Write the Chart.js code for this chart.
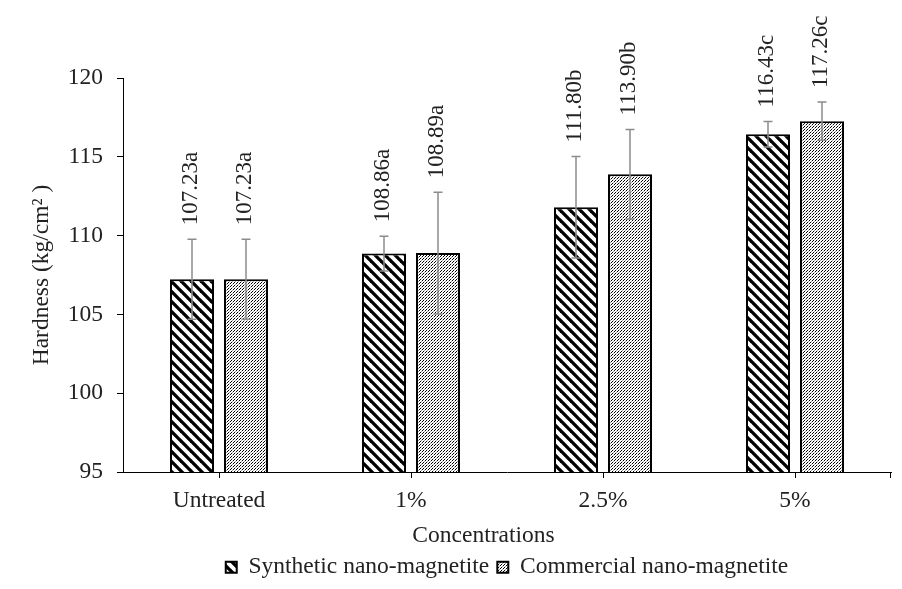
<!DOCTYPE html>
<html>
<head>
<meta charset="utf-8">
<script src="https://cdn.jsdelivr.net/npm/chart.js@4/dist/chart.umd.min.js"></script>
<style>
  html, body { margin: 0; padding: 0; background: #fff; }
  #wrap { width: 902px; height: 589px; }
</style>
</head>
<body>
<div id="wrap"><canvas id="myChart" width="902" height="589"></canvas></div>
<script>
const categories = ["Untreated", "1%", "2.5%", "5%"];
const seriesNames = ["Synthetic nano-magnetite", "Commercial nano-magnetite"];
const syntheticValues = [107.23, 108.86, 111.8, 116.43];
const commercialValues = [107.23, 108.89, 113.9, 117.26];
const syntheticSD = [2.54, 1.1, 3.22, 0.81];
const commercialSD = [2.54, 3.86, 2.84, 1.21];
const syntheticLetters = ["a", "a", "b", "c"];
const commercialLetters = ["a", "a", "b", "c"];
const yTicks = [95, 100, 105, 110, 115, 120];

const FONT = "'Liberation Serif', 'Times New Roman', serif";
const TEXT = "#222";
const SIZE = 23.5;

// diagonal stripes for the synthetic series
function stripePattern(ctx) {
  const c = document.createElement("canvas");
  c.width = 10;
  c.height = 10;
  const g = c.getContext("2d");
  g.fillStyle = "#fff";
  g.fillRect(0, 0, 10, 10);
  g.strokeStyle = "#000";
  g.lineWidth = 3.3;
  [-10, 0, 10].forEach((dx) => {
    g.beginPath();
    g.moveTo(dx - 2, -2);
    g.lineTo(dx + 12, 12);
    g.stroke();
  });
  return ctx.createPattern(c, "repeat");
}

// fine dots for the commercial series
function dotPattern(ctx) {
  const c = document.createElement("canvas");
  c.width = 3;
  c.height = 3;
  const g = c.getContext("2d");
  g.fillStyle = "#fff";
  g.fillRect(0, 0, 3, 3);
  g.fillStyle = "#000";
  g.fillRect(0, 0, 1, 1);
  g.fillRect(2, 1, 1, 1);
  g.fillStyle = "#999";
  g.fillRect(1, 2, 1, 1);
  return ctx.createPattern(c, "repeat");
}

const ctx = document.getElementById("myChart").getContext("2d");

// error bars, letters and the extra end tick
const extras = {
  id: "extras",
  afterDatasetsDraw(chart) {
    const c = chart.ctx;
    const y = chart.scales.y;
    const x = chart.scales.x;
    chart.data.datasets.forEach((ds, i) => {
      const meta = chart.getDatasetMeta(i);
      meta.data.forEach((bar, j) => {
        const v = ds.data[j];
        const sd = ds.sd[j];
        const top = y.getPixelForValue(v + sd);
        const bot = y.getPixelForValue(v - sd);
        c.save();
        c.strokeStyle = "#8c8c8c";
        c.lineWidth = 1.5;
        c.beginPath();
        c.moveTo(bar.x, top);
        c.lineTo(bar.x, bot);
        c.moveTo(bar.x - 4.5, top);
        c.lineTo(bar.x + 4.5, top);
        c.moveTo(bar.x - 4.5, bot);
        c.lineTo(bar.x + 4.5, bot);
        c.stroke();
        c.translate(bar.x - 1, top - 14);
        c.rotate(-Math.PI / 2);
        c.fillStyle = TEXT;
        c.font = "23px " + FONT;
        c.textAlign = "left";
        c.textBaseline = "middle";
        c.fillText(v.toFixed(2) + ds.letters[j], 0, 0);
        c.restore();
      });
    });
    c.save();
    c.strokeStyle = "#000";
    c.lineWidth = 1;
    c.beginPath();
    c.moveTo(x.right - 0.5, y.bottom);
    c.lineTo(x.right - 0.5, y.bottom + 6);
    c.stroke();
    c.restore();
  },
};

const myChart = new Chart(ctx, {
  type: "bar",
  data: {
    labels: categories,
    datasets: [
      {
        label: seriesNames[0],
        data: syntheticValues,
        sd: syntheticSD,
        letters: syntheticLetters,
        backgroundColor: stripePattern(ctx),
        borderColor: "#000",
        borderWidth: 2,
        categoryPercentage: 0.5625,
        barPercentage: 0.815,
      },
      {
        label: seriesNames[1],
        data: commercialValues,
        sd: commercialSD,
        letters: commercialLetters,
        backgroundColor: dotPattern(ctx),
        borderColor: "#000",
        borderWidth: 2,
        categoryPercentage: 0.5625,
        barPercentage: 0.815,
      },
    ],
  },
  options: {
    responsive: false,
    animation: false,
    layout: { padding: { top: 78, right: 11, left: 30, bottom: 0 } },
    plugins: {
      tooltip: { enabled: false },
      legend: {
        position: "bottom",
        fullSize: false,
        labels: {
          color: TEXT,
          font: { family: FONT, size: SIZE },
          boxWidth: 11,
          boxHeight: 11,
          padding: 8,
        },
      },
    },
    scales: {
      x: {
        grid: {
          offset: false,
          drawOnChartArea: false,
          tickLength: 6,
          color: "#000",
        },
        border: { color: "#000", width: 1 },
        ticks: { color: TEXT, font: { family: FONT, size: SIZE }, padding: 9 },
        title: {
          display: true,
          text: "Concentrations        ",
          color: TEXT,
          font: { family: FONT, size: SIZE, lineHeight: 1 },
          padding: 0,
        },
        afterFit(scale) {
          scale.height = 75.5;
        },
      },
      y: {
        min: 95,
        max: 120,
        afterBuildTicks(scale) {
          scale.ticks = yTicks.map((v) => ({ value: v }));
        },
        grid: { drawOnChartArea: false, tickLength: 6, color: "#000" },
        border: { color: "#000", width: 1 },
        ticks: { color: TEXT, font: { family: FONT, size: SIZE }, padding: 14 },
        title: {
          display: true,
          text: "Hardness (kg/cm² )",
          color: TEXT,
          font: { family: FONT, size: SIZE, lineHeight: 1 },
          padding: 0,
        },
        afterFit(scale) {
          scale.width = 93;
        },
      },
    },
  },
  plugins: [extras],
});
</script>
</body>
</html>
